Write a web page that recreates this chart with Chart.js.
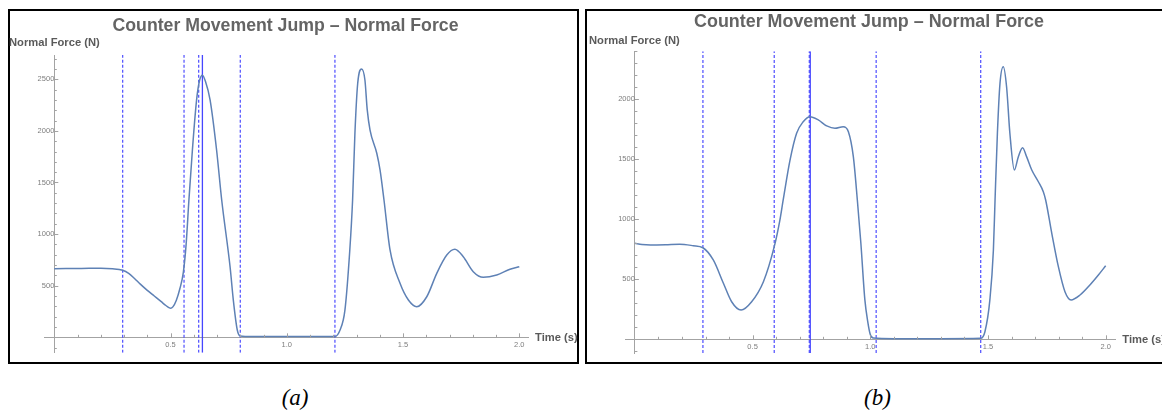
<!DOCTYPE html>
<html>
<head>
<meta charset="utf-8">
<title>Counter Movement Jump – Normal Force</title>
<script src="https://cdn.jsdelivr.net/npm/chart.js@4/dist/chart.umd.min.js"></script>
<style>
  html, body { margin: 0; padding: 0; background: #fff; }
  #stage { position: relative; width: 1162px; height: 412px; overflow: hidden; background: #fff; }
  .frame { position: absolute; box-sizing: border-box; border: 2.5px solid #000; }
  canvas { position: absolute; }
  .txt { position: absolute; white-space: nowrap; line-height: 1; font-family: "Liberation Sans", Arial, sans-serif; }
  .title { font-weight: bold; color: #646464; text-align: center; width: 420px; }
  .axl { font-weight: bold; color: #5a5a5a; font-size: 11.2px; }
  .cap { font-family: "Liberation Serif", "Times New Roman", serif; font-style: italic; font-size: 23px; color: #000; }
</style>
</head>
<body>
<div id="stage">
  <div class="frame" style="left:8px;top:9px;width:571px;height:355px;"></div>
  <div class="frame" style="left:584.5px;top:9px;width:620px;height:355px;"></div>

  <canvas id="chartA" width="566" height="350" style="left:10px;top:11px;"></canvas>
  <canvas id="chartB" width="575" height="350" style="left:587px;top:11px;"></canvas>

  <div class="txt title" style="left:75.5px;top:16.7px;font-size:17.7px;">Counter Movement Jump – Normal Force</div>
  <div class="txt title" style="left:659px;top:13.2px;font-size:17.9px;">Counter Movement Jump – Normal Force</div>

  <div class="txt axl" style="left:9px;top:36.5px;">Normal Force (N)</div>
  <div class="txt axl" style="left:589px;top:34.5px;">Normal Force (N)</div>
  <div class="txt axl" style="left:535px;top:332.2px;">Time (s)</div>
  <div class="txt axl" style="left:1122.3px;top:333.8px;">Time (s)</div>

  <div class="txt cap" style="left:281.7px;top:385.7px;">(a)</div>
  <div class="txt cap" style="left:864px;top:385.7px;">(b)</div>
</div>

<script>
// ---- Trial (a): time (s) and normal force (N) ----
const timeA = [0.000, 0.050, 0.100, 0.150, 0.200, 0.250, 0.294, 0.320, 0.345, 0.370, 0.400, 0.430, 0.460,
  0.480, 0.495, 0.500, 0.510, 0.525, 0.540, 0.555, 0.567, 0.579, 0.594, 0.612, 0.625, 0.637, 0.650, 0.670,
  0.698, 0.720, 0.756, 0.770, 0.787, 0.800, 0.850, 1.000, 1.150, 1.207, 1.229, 1.250, 1.271, 1.283, 1.293,
  1.305, 1.322, 1.336, 1.346, 1.358, 1.387, 1.401, 1.418, 1.444, 1.487, 1.523, 1.559, 1.602, 1.645, 1.688,
  1.723, 1.759, 1.802, 1.845, 1.903, 1.960, 2.000];
const forceA = [665, 666, 667, 668, 668, 664, 650, 620, 570, 515, 455, 400, 345,
  308, 285, 281, 295, 360, 470, 630, 900, 1330, 1815, 2300, 2490, 2540, 2480, 2300,
  1815, 1330, 684, 361, 71, 13, 8, 8, 8, 8, 71, 264, 846, 1330, 1977,
  2461, 2600, 2493, 2203, 2008, 1783, 1621, 1330, 846, 523, 361, 297, 393, 620, 797,
  853, 781, 636, 581, 604, 659, 684];
// phase markers (s)
const dashedA = [0.294, 0.558, 0.621, 0.800, 1.207];
const solidA = [0.637];

// ---- Trial (b) ----
const timeB = [0.000, 0.030, 0.066, 0.130, 0.190, 0.248, 0.289, 0.333, 0.376, 0.411, 0.451, 0.496, 0.546,
  0.592, 0.616, 0.630, 0.659, 0.687, 0.715, 0.744, 0.779, 0.815, 0.850, 0.885, 0.907, 0.928, 0.945, 0.960,
  0.977, 0.989, 1.000, 1.013, 1.100, 1.300, 1.469, 1.487, 1.508, 1.523, 1.530, 1.540, 1.551, 1.565, 1.579,
  1.593, 1.612, 1.629, 1.647, 1.664, 1.686, 1.714, 1.735, 1.745, 1.771, 1.799, 1.827, 1.853, 1.891, 1.933,
  1.969, 2.000];
const forceB = [800, 790, 786, 788, 792, 780, 763, 661, 467, 313, 244, 313, 480,
  772, 994, 1161, 1493, 1717, 1813, 1855, 1828, 1778, 1758, 1772, 1730, 1522, 1161, 800,
  328, 150, 40, 10, 5, 5, 8, 63, 328, 744, 1161, 1717, 2133, 2272, 2105,
  1717, 1411, 1522, 1597, 1522, 1411, 1313, 1230, 1161, 883, 605, 397, 328, 369, 453,
  536, 613];
const dashedB = [0.289, 0.592, 0.741, 1.025, 1.469];
const solidB = [0.745];

// axis ranges
const rangeA = { xMin: -0.043, xMax: 2.04, yMin: -150, yMax: 2735 };
const rangeB = { xMin: -0.042, xMax: 2.04, yMin: -115, yMax: 2400 };

// tick steps
const xMinorStep = 0.1, xMajorStep = 0.5;
const yMinorStep = 100, yMajorStep = 500;

const CURVE = '#5e81b5';
const MARK_DASH = 'rgba(72,72,255,0.9)';
const MARK_SOLID = 'rgba(60,60,255,0.95)';
const AXIS = '#a3a3a3';
const TICK_TXT = '#7d7d7d';
const FONT = '"Liberation Sans", Arial, sans-serif';

const isMultiple = (v, step) => Math.abs(v / step - Math.round(v / step)) < 1e-6;

// Mathematica-style inward tick marks at the axes' crossing point
const inwardTicks = {
  id: 'inwardTicks',
  afterDraw(chart) {
    const { ctx, scales: { x, y } } = chart;
    const y0 = y.getPixelForValue(0);
    const x0 = x.getPixelForValue(0);
    ctx.save();
    ctx.strokeStyle = AXIS;
    ctx.lineWidth = 1;
    x.ticks.forEach(t => {
      if (Math.abs(t.value) < 1e-9) return;
      const px = Math.round(x.getPixelForValue(t.value)) + 0.5;
      const len = isMultiple(t.value, xMajorStep) ? 4 : 2.5;
      ctx.beginPath(); ctx.moveTo(px, y0); ctx.lineTo(px, y0 - len); ctx.stroke();
    });
    y.ticks.forEach(t => {
      if (Math.abs(t.value) < 1e-9) return;
      const py = Math.round(y.getPixelForValue(t.value)) + 0.5;
      const len = isMultiple(t.value, yMajorStep) ? 4 : 2.5;
      ctx.beginPath(); ctx.moveTo(x0, py); ctx.lineTo(x0 + len, py); ctx.stroke();
    });
    ctx.restore();
  }
};

function markerSet(times, range, color, dash) {
  return times.map(t => ({
    data: [{ x: t, y: range.yMin }, { x: t, y: range.yMax }],
    borderColor: color,
    borderWidth: 1.3,
    borderDash: dash,
    pointRadius: 0,
    tension: 0,
    fill: false
  }));
}

function buildChart(id, time, force, dashed, solid, range, pad) {
  const curve = {
    data: time.map((t, i) => ({ x: t, y: force[i] })),
    borderColor: CURVE,
    borderWidth: 1.5,
    pointRadius: 0,
    cubicInterpolationMode: 'monotone',
    fill: false
  };
  return new Chart(document.getElementById(id), {
    type: 'line',
    data: {
      datasets: [curve, ...markerSet(dashed, range, MARK_DASH, [3, 2]), ...markerSet(solid, range, MARK_SOLID, [])]
    },
    options: {
      responsive: false,
      animation: false,
      devicePixelRatio: 1,
      layout: { padding: pad },
      plugins: { legend: { display: false }, tooltip: { enabled: false }, title: { display: false } },
      scales: {
        x: {
          type: 'linear',
          min: range.xMin, max: range.xMax,
          position: { y: 0 },
          grid: { display: true, drawOnChartArea: false, drawTicks: false },
          border: { display: true, color: AXIS, width: 1 },
          ticks: {
            stepSize: xMinorStep, includeBounds: false, autoSkip: false, maxRotation: 0, padding: 3,
            color: TICK_TXT, font: { family: FONT, size: 7.5 },
            callback: v => (v > 0 && isMultiple(v, xMajorStep)) ? (Math.round(v * 10) / 10).toFixed(1) : ''
          }
        },
        y: {
          type: 'linear',
          min: range.yMin, max: range.yMax,
          position: { x: 0 },
          grid: { display: true, drawOnChartArea: false, drawTicks: false },
          border: { display: true, color: AXIS, width: 1 },
          ticks: {
            stepSize: yMinorStep, includeBounds: false, autoSkip: false, padding: 3,
            color: TICK_TXT, font: { family: FONT, size: 7.5 },
            callback: v => (v > 0 && isMultiple(v, yMajorStep)) ? String(Math.round(v)) : ''
          }
        }
      }
    },
    plugins: [inwardTicks]
  });
}

buildChart('chartA', timeA, forceA, dashedA, solidA, rangeA, { left: 34.3, top: 44.0, right: 47.4, bottom: 8.2 });
buildChart('chartB', timeB, forceB, dashedB, solidB, rangeB, { left: 38, top: 40.3, right: 46.9, bottom: 7.9 });
</script>
</body>
</html>
